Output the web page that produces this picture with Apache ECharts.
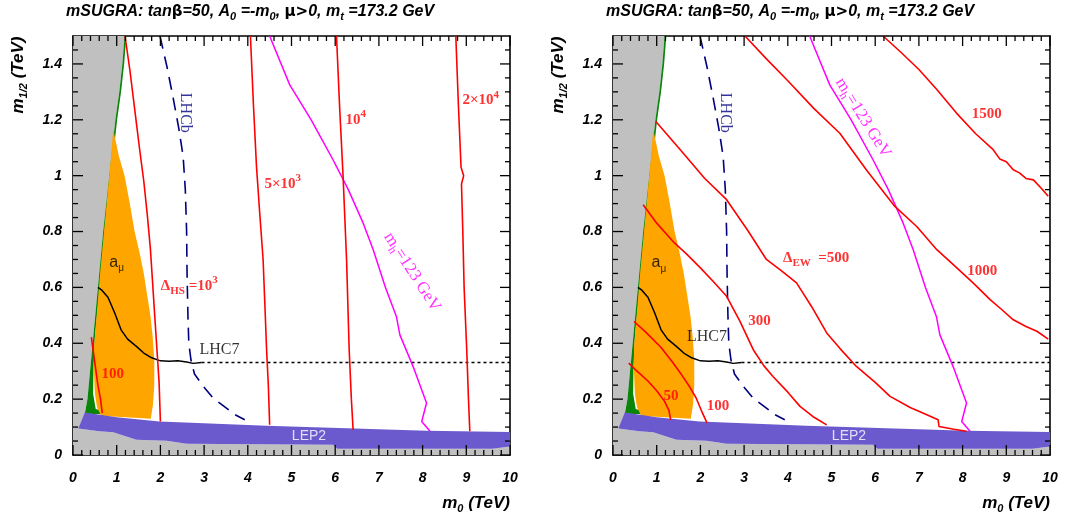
<!DOCTYPE html>
<html>
<head>
<meta charset="utf-8">
<script src="https://cdn.jsdelivr.net/npm/echarts@6/dist/echarts.min.js"></script>
<style>
  html, body { margin: 0; padding: 0; background: #fff; }
  #chart { width: 1079px; height: 519px; }
</style>
</head>
<body>
<div id="chart"></div>
<script>
// all points are [m0, m1/2] in TeV

// excluded (grey) region
var greyRegion = [[0,0],[0,1.5],[1.18,1.5],[1.13,1.4],[1.06,1.3],[0.97,1.2],[0.90,1.1],[0.83,1.0],[0.76,0.9],[0.69,0.8],[0.63,0.7],[0.57,0.6],[0.51,0.5],[0.45,0.4],[0.39,0.3],[0.33,0.2],[0.27,0.15],[0.12,0.095],[0.6,0.085],[0.92,0.081],[1.45,0.055],[2.14,0.051],[2.6,0.04],[5.95,0.037],[6.05,0.022],[9.6,0.022],[10,0.03],[10,0]];
// LEP2 chargino band
var lep2Band = [[0.27,0.152],[1.0,0.135],[1.98,0.12],[4.43,0.105],[8.09,0.087],[10,0.082],[10,0.03],[9.6,0.022],[6.05,0.022],[5.95,0.037],[2.6,0.04],[2.14,0.051],[1.45,0.055],[0.92,0.081],[0.6,0.085],[0.12,0.095]];
// green strip (relic density)
var greenStrip = [[1.18,1.5],[1.22,1.5],[1.17,1.4],[1.10,1.3],[1.01,1.2],[0.94,1.1],[0.87,1.0],[0.80,0.9],[0.73,0.8],[0.67,0.7],[0.61,0.6],[0.55,0.5],[0.50,0.42],[0.47,0.32],[0.46,0.22],[0.52,0.165],[0.95,0.145],[0.27,0.148],[0.33,0.2],[0.39,0.3],[0.45,0.4],[0.51,0.5],[0.57,0.6],[0.63,0.7],[0.69,0.8],[0.76,0.9],[0.83,1.0],[0.90,1.1],[0.97,1.2],[1.06,1.3],[1.13,1.4]];
// a_mu favoured region
var amuRegion = [[0.92,1.165],[1.05,1.07],[1.18,1.0],[1.30,0.9],[1.41,0.8],[1.53,0.72],[1.62,0.65],[1.70,0.57],[1.77,0.5],[1.82,0.43],[1.86,0.34],[1.86,0.25],[1.83,0.18],[1.78,0.13],[1.2,0.135],[0.65,0.14],[0.55,0.17],[0.5,0.22],[0.48,0.3],[0.48,0.38],[0.52,0.46],[0.57,0.55],[0.62,0.65],[0.68,0.75],[0.74,0.85],[0.80,0.95],[0.86,1.05]];

var lhcb = [[1.99,1.5],[2.15,1.39],[2.29,1.28],[2.42,1.17],[2.52,1.07],[2.57,0.95],[2.6,0.8],[2.61,0.65],[2.63,0.5],[2.65,0.4],[2.7,0.34],[2.78,0.29],[2.98,0.246],[3.2,0.205],[3.45,0.175],[3.7,0.145],[3.93,0.126]];
var lhc7 = [[0.57,0.6],[0.66,0.59],[0.8,0.565],[0.95,0.51],[1.1,0.448],[1.25,0.415],[1.45,0.389],[1.62,0.365],[1.8,0.348],[2.0,0.337],[2.2,0.336],[2.4,0.337],[2.6,0.333],[2.75,0.328],[2.94,0.331]];
var lhc7Ext = [[2.94,0.331],[10,0.331]];
var mh123 = [[4.5,1.5],[4.96,1.325],[5.45,1.2],[5.95,1.057],[6.3,0.95],[6.64,0.83],[6.87,0.735],[7.15,0.6],[7.40,0.496],[7.48,0.43],[7.8,0.31],[8.09,0.186],[7.98,0.12],[8.17,0.085]];

// Delta_HS contours (left)
var hs100 = [[0.42,0.422],[0.5,0.33],[0.57,0.25],[0.63,0.2],[0.67,0.15]];
var hs1000 = [[1.19,1.5],[1.3,1.38],[1.41,1.24],[1.52,1.1],[1.62,0.98],[1.7,0.86],[1.77,0.74],[1.82,0.62],[1.87,0.5],[1.92,0.38],[1.97,0.26],[2.0,0.12]];
var hs5000 = [[4.06,1.5],[4.13,1.25],[4.20,1.03],[4.28,0.85],[4.35,0.70],[4.4,0.5],[4.43,0.377],[4.47,0.25],[4.5,0.108]];
var hs10000 = [[6.03,1.5],[6.1,1.25],[6.18,1.0],[6.26,0.70],[6.32,0.377],[6.37,0.2],[6.41,0.09]];
var hs20000 = [[8.76,1.5],[8.82,1.25],[8.88,1.03],[8.94,1.0],[8.89,0.97],[8.92,0.8],[8.95,0.6],[9.01,0.377],[9.05,0.2],[9.08,0.085]];

// Delta_EW contours (right)
var ew50 = [[0.36,0.329],[0.55,0.30],[0.8,0.265],[1.0,0.23],[1.18,0.192],[1.28,0.16],[1.32,0.126]];
var ew100 = [[0.48,0.478],[0.75,0.44],[1.1,0.385],[1.35,0.335],[1.57,0.287],[1.75,0.245],[1.9,0.205],[2.02,0.16],[2.15,0.115]];
var ew300 = [[0.69,0.896],[1.0,0.83],[1.4,0.76],[1.68,0.72],[2.0,0.67],[2.3,0.62],[2.6,0.568],[2.9,0.48],[3.21,0.377],[3.45,0.32],[3.66,0.281],[4.0,0.225],[4.28,0.174],[4.6,0.135],[4.89,0.108]];
var ew500 = [[0.98,1.194],[1.5,1.1],[2.1,0.99],[2.6,0.914],[3.1,0.8],[3.51,0.70],[3.85,0.66],[4.2,0.616],[4.55,0.53],[4.89,0.437],[5.2,0.38],[5.57,0.317],[6.0,0.26],[6.34,0.21],[6.8,0.17],[7.18,0.144],[7.44,0.126],[7.46,0.102],[7.8,0.092],[8.09,0.085]];
var ew1000 = [[3.02,1.5],[3.5,1.42],[4.0,1.34],[4.6,1.24],[5.19,1.152],[5.8,1.02],[6.45,0.89],[6.95,0.818],[7.41,0.735],[7.8,0.68],[8.24,0.616],[8.63,0.556],[8.9,0.52],[9.16,0.484],[9.45,0.46],[9.70,0.443],[9.96,0.415]];
var ew1500 = [[6.18,1.5],[6.6,1.44],[7.0,1.38],[7.4,1.31],[7.86,1.224],[8.3,1.15],[8.70,1.093],[8.85,1.06],[9.0,1.05],[9.16,1.021],[9.3,1.01],[9.45,0.99],[9.62,0.985],[9.8,0.955],[9.96,0.926]];

// tick positions (TeV)
var xMajorTicks = [0, 1, 2, 3, 4, 5, 6, 7, 8, 9, 10];
var yMajorTicks = [0, 0.2, 0.4, 0.6, 0.8, 1.0, 1.2, 1.4];
var xMinorTicks = [], yMinorTicks = [];
for (var i = 1; i < 50; i++) if (i % 5) xMinorTicks.push(i / 5);
for (var j = 1; j < 30; j++) if (j % 4) yMinorTicks.push(j / 20);

// in-plot annotations: [m0, m1/2, text, rotation]
var leftLabels = [
  [2.66, 0.605, '{rb|Δ}{rs|HS}{rb| =10}{rp|3}', 0],
  [0.91, 0.29, '{rb|100}', 0],
  [4.8, 0.97, '{rb|5×10}{rp|3}', 0],
  [6.47, 1.20, '{rb|10}{rp|4}', 0],
  [9.33, 1.27, '{rb|2×10}{rp|4}', 0],
  [7.76, 0.655, '{mg|m}{ms|h}{mg|=123 GeV}', -57],
  [2.56, 1.225, '{nv|LHCb}', -90],
  [3.35, 0.377, '{bk|LHC7}', 0],
  [1.0, 0.69, '{sa|a}{ss|μ}', 0],
  [5.4, 0.067, '{sw|LEP2}', 0]
];
var rightLabels = [
  [4.65, 0.705, '{rb|Δ}{rs|EW}{rb|  =500}', 0],
  [3.35, 0.478, '{rb|300}', 0],
  [2.4, 0.174, '{rb|100}', 0],
  [1.33, 0.21, '{rb|50}', 0],
  [8.45, 0.66, '{rb|1000}', 0],
  [8.55, 1.22, '{rb|1500}', 0],
  [5.72, 1.207, '{mg|m}{ms|h}{mg|=123 GeV}', -58],
  [2.56, 1.225, '{nv|LHCb}', -90],
  [2.15, 0.422, '{bk|LHC7}', 0],
  [1.05, 0.688, '{sa|a}{ss|μ}', 0],
  [5.4, 0.067, '{sw|LEP2}', 0]
];

var SANS = 'Liberation Sans', SERIF = 'Liberation Serif';
var rich = {
  rb: {fontFamily: SERIF, fontWeight: 'bold', fontSize: 15, color: '#ff0000', lineHeight: 22},
  rs: {fontFamily: SERIF, fontWeight: 'bold', fontSize: 11, color: '#ff0000', lineHeight: 13, verticalAlign: 'bottom'},
  rp: {fontFamily: SERIF, fontWeight: 'bold', fontSize: 11, color: '#ff0000', lineHeight: 13, verticalAlign: 'top'},
  mg: {fontFamily: SERIF, fontSize: 17, color: '#ff00ff', lineHeight: 22},
  ms: {fontFamily: SERIF, fontSize: 12, color: '#ff00ff', lineHeight: 13, verticalAlign: 'bottom'},
  nv: {fontFamily: SERIF, fontSize: 16, color: '#00007f'},
  bk: {fontFamily: SERIF, fontSize: 16, color: '#000'},
  sa: {fontFamily: SANS, fontSize: 16, color: '#000', lineHeight: 22},
  ss: {fontFamily: SANS, fontSize: 10, color: '#000', lineHeight: 12, verticalAlign: 'bottom'},
  sw: {fontFamily: SANS, fontSize: 14, color: '#fff'}
};
var titleRich = {
  t: {fontFamily: SANS, fontWeight: 'bold', fontStyle: 'italic', fontSize: 16, color: '#000', lineHeight: 20},
  g: {fontFamily: 'DejaVu Sans', fontSize: 15, color: '#000', lineHeight: 20},
  s: {fontFamily: SANS, fontWeight: 'bold', fontStyle: 'italic', fontSize: 11, color: '#000', lineHeight: 12, verticalAlign: 'bottom'}
};
var axisRich = {
  a: {fontFamily: SANS, fontWeight: 'bold', fontStyle: 'italic', fontSize: 17, color: '#000', lineHeight: 22},
  b: {fontFamily: SANS, fontWeight: 'bold', fontStyle: 'italic', fontSize: 11, color: '#000', lineHeight: 12, verticalAlign: 'bottom'}
};
var titleText = '{t|mSUGRA: tan}{g|β}{t|=50, A}{s|0}{t| =-m}{s|0}{t|, }{g|μ>}{t|0, m}{s|t}{t| =173.2 GeV}';
var labelFont = {fontFamily: SANS, fontWeight: 'bold', fontStyle: 'italic', fontSize: 14, color: '#000'};

function xAxes(grid) {
  var base = {
    type: 'value', gridIndex: grid, min: 0, max: 10, interval: 1,
    axisLine: {show: true, onZero: false, lineStyle: {color: '#000', width: 1.6}},
    axisTick: {show: false}, minorTick: {show: false}, splitLine: {show: false}
  };
  return [
    Object.assign({}, base, {position: 'bottom', axisLabel: Object.assign({show: true, margin: 16}, labelFont)}),
    Object.assign({}, base, {position: 'top', axisLabel: {show: false}})
  ];
}

function yAxes(grid) {
  var base = {
    type: 'value', gridIndex: grid, min: 0, max: 1.5, interval: 0.2,
    axisLine: {show: true, onZero: false, lineStyle: {color: '#000', width: 1.6}},
    axisTick: {show: false}, minorTick: {show: false}, splitLine: {show: false}
  };
  return [
    Object.assign({}, base, {position: 'left', axisLabel: Object.assign({show: true, showMaxLabel: false, margin: 11}, labelFont)}),
    Object.assign({}, base, {position: 'right', axisLabel: {show: false}})
  ];
}

// one item per inward tick: [value, side (0 bottom, 1 top, 2 left, 3 right), major flag]
function tickItems() {
  var items = [];
  [0, 1].forEach(function (s) {
    xMajorTicks.forEach(function (v) { items.push([v, s, 1]); });
    xMinorTicks.forEach(function (v) { items.push([v, s, 0]); });
  });
  [2, 3].forEach(function (s) {
    yMajorTicks.forEach(function (v) { items.push([v, s, 1]); });
    yMinorTicks.forEach(function (v) { items.push([v, s, 0]); });
  });
  return items;
}

function tickSeries(xi, yi) {
  var items = tickItems();
  return {
    type: 'custom', xAxisIndex: xi, yAxisIndex: yi, data: items, z: 6, silent: true, clip: false,
    encode: {x: 0, y: -1},
    renderItem: function (params, api) {
      var it = items[params.dataIndex];
      var v = it[0], side = it[1], len = it[2] ? 10 : 5, w = 0.65, p, d;
      if (side < 2) {
        p = api.coord([v, side === 0 ? 0 : 1.5]);
        d = side === 0 ? -len : len;
        return {type: 'polygon', shape: {points: [[p[0] - w, p[1]], [p[0] + w, p[1]], [p[0] + w, p[1] + d], [p[0] - w, p[1] + d]]}, style: {fill: '#000'}};
      }
      p = api.coord([side === 2 ? 0 : 10, v]);
      d = side === 2 ? len : -len;
      return {type: 'polygon', shape: {points: [[p[0], p[1] - w], [p[0], p[1] + w], [p[0] + d, p[1] + w], [p[0] + d, p[1] - w]]}, style: {fill: '#000'}};
    }
  };
}

function area(pts, color, xi, yi, z) {
  return {
    type: 'custom', xAxisIndex: xi, yAxisIndex: yi, data: pts, z: z, silent: true, clip: true,
    renderItem: function (params, api) {
      if (params.dataIndex !== 0) return null;
      return {type: 'polygon', shape: {points: pts.map(function (p) { return api.coord(p); })}, style: {fill: color}};
    }
  };
}

function curve(pts, color, width, dash, xi, yi) {
  return {
    type: 'line', xAxisIndex: xi, yAxisIndex: yi, data: pts, symbol: 'none', z: 5, silent: true,
    lineStyle: {color: color, width: width, type: dash || 'solid'}
  };
}

function labels(items, xi, yi) {
  return {
    type: 'scatter', xAxisIndex: xi, yAxisIndex: yi, symbolSize: 0, z: 8, silent: true,
    data: items.map(function (it) {
      return {value: [it[0], it[1]], label: {show: true, position: 'inside', formatter: it[2], rotate: it[3], rich: rich}};
    })
  };
}

function commonSeries(xi, yi) {
  return [
    area(greyRegion, '#c0c0c0', xi, yi, 1),
    area(greenStrip, '#0a850a', xi, yi, 2),
    area(amuRegion, '#ffa500', xi, yi, 3),
    area(lep2Band, '#6a5acd', xi, yi, 4),
    curve(lhcb, '#00007f', 1.6, [13, 8], xi, yi),
    curve(lhc7, '#000', 1.5, null, xi, yi),
    curve(lhc7Ext, '#000', 1.5, [3, 3], xi, yi),
    curve(mh123, '#ff00ff', 1.5, null, xi, yi),
    tickSeries(xi, yi)
  ];
}

var series = commonSeries(0, 0).concat(
  [hs100, hs1000, hs5000, hs10000, hs20000].map(function (c) { return curve(c, '#ff0000', 1.6, null, 0, 0); }),
  [labels(leftLabels, 0, 0)],
  commonSeries(2, 2),
  [ew50, ew100, ew300, ew500, ew1000, ew1500].map(function (c) { return curve(c, '#ff0000', 1.6, null, 2, 2); }),
  [labels(rightLabels, 2, 2)]
);

var chart = echarts.init(document.getElementById('chart'));
chart.setOption({
  animation: false,
  backgroundColor: '#fff',
  title: [
    {text: titleText, left: 66, top: 2, padding: 0, textStyle: {rich: titleRich}},
    {text: titleText, left: 606, top: 2, padding: 0, textStyle: {rich: titleRich}}
  ],
  grid: [
    {left: 73, top: 36, width: 437, height: 419},
    {left: 613, top: 36, width: 437, height: 419}
  ],
  xAxis: xAxes(0).concat(xAxes(1)),
  yAxis: yAxes(0).concat(yAxes(1)),
  graphic: [
    {type: 'text', x: 18, y: 75, rotation: Math.PI / 2, z: 20, style: {text: '{a|m}{b|1/2}{a| (TeV)}', rich: axisRich, align: 'center', verticalAlign: 'middle'}},
    {type: 'text', x: 558, y: 75, rotation: Math.PI / 2, z: 20, style: {text: '{a|m}{b|1/2}{a| (TeV)}', rich: axisRich, align: 'center', verticalAlign: 'middle'}},
    {type: 'text', x: 510, y: 503, z: 20, style: {text: '{a|m}{b|0}{a| (TeV)}', rich: axisRich, align: 'right', verticalAlign: 'middle'}},
    {type: 'text', x: 1050, y: 503, z: 20, style: {text: '{a|m}{b|0}{a| (TeV)}', rich: axisRich, align: 'right', verticalAlign: 'middle'}}
  ],
  series: series
});
</script>
</body>
</html>
